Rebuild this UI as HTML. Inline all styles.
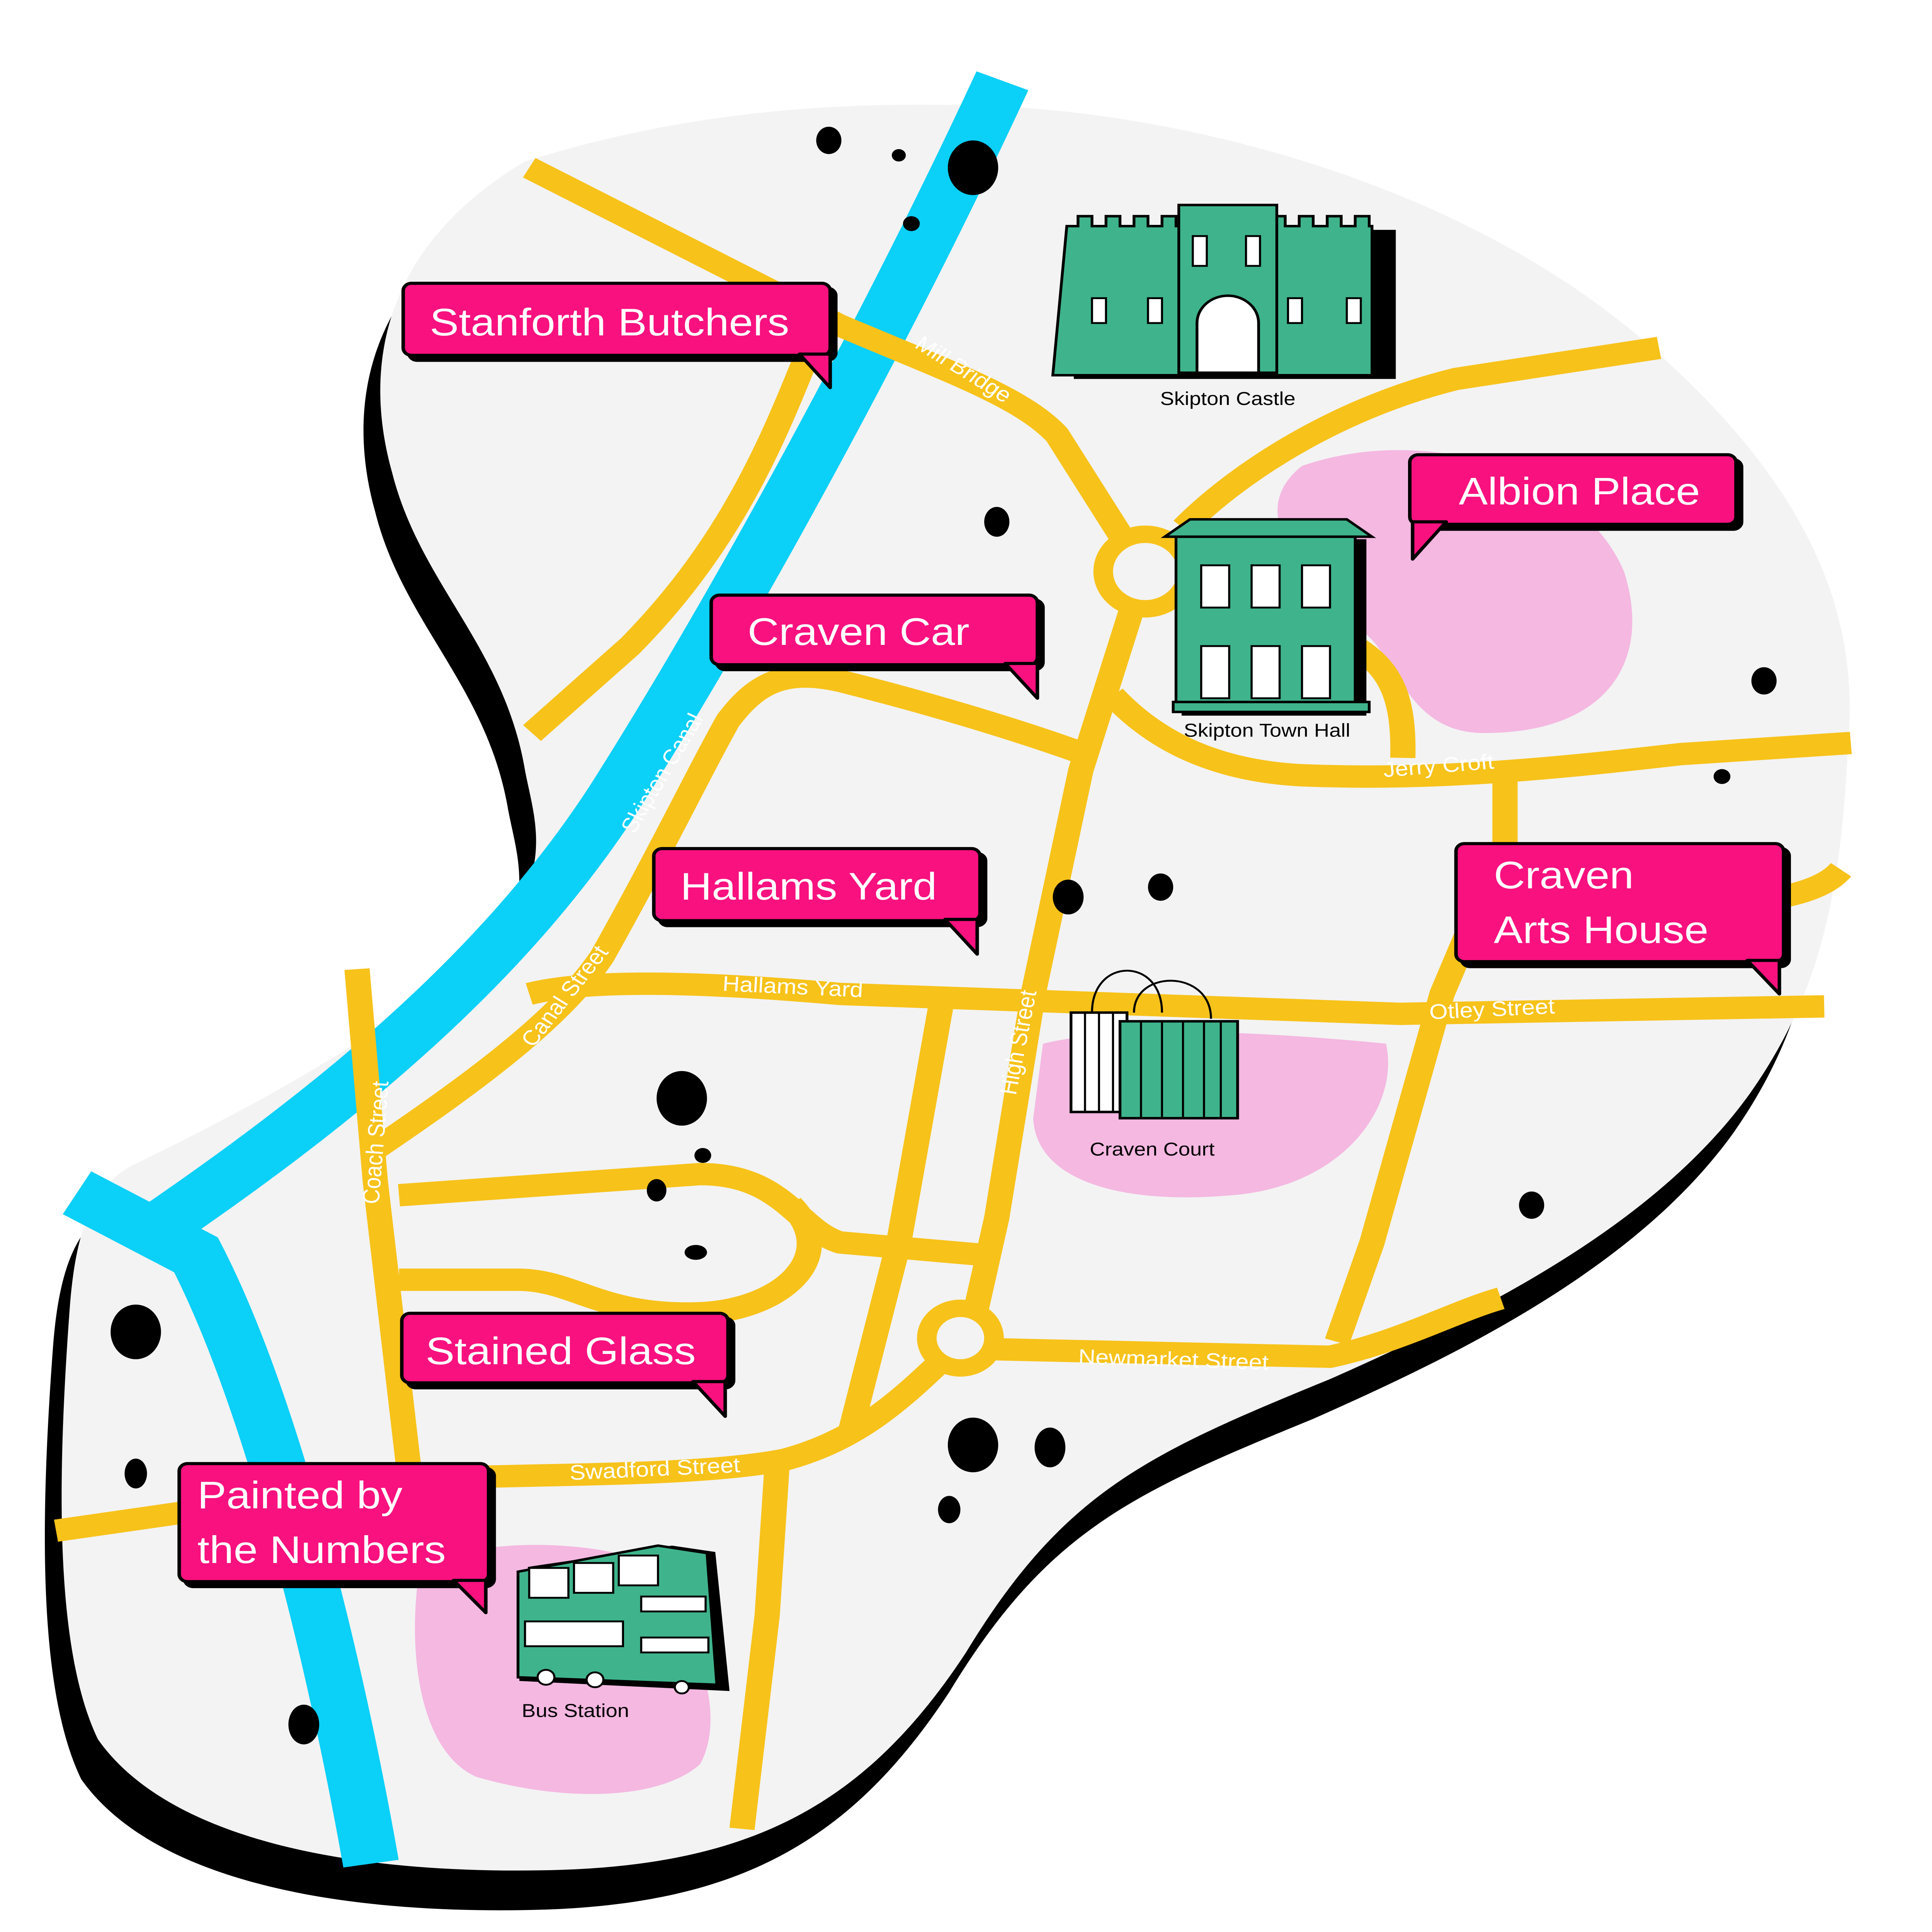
<!DOCTYPE html>
<html><head><meta charset="utf-8"><style>
html,body{margin:0;padding:0;background:#fff;width:100vw;height:100vh;overflow:hidden}
svg{display:block;width:100vw;height:100vh}
text{font-family:"Liberation Sans",sans-serif}
</style></head><body>
<svg viewBox="0 0 1380 1555" preserveAspectRatio="none" xmlns="http://www.w3.org/2000/svg">
<defs>
<path id="blob" d="M375,130 C460,100 560,80 700,85 C850,90 1050,150 1180,280 C1280,380 1330,480 1320,600 C1315,720 1300,800 1250,880 C1180,990 1050,1060 950,1110 C820,1170 760,1200 690,1330 C620,1450 540,1500 400,1505 C250,1510 120,1480 70,1400 C40,1330 40,1200 50,1050 C55,980 70,950 100,935 C200,880 330,800 375,720 C390,680 380,650 375,620 C360,520 300,470 280,380 C260,300 270,200 375,130 Z"/>
</defs>
<use href="#blob" transform="translate(-12,32)" fill="#000"/>
<use href="#blob" fill="#f3f3f3"/>

<g fill="#f4b8e1">
<path d="M930,375 C1020,340 1130,380 1160,460 C1180,530 1150,590 1060,590 C1010,590 1000,540 980,515 C950,480 880,420 930,375 Z"/>
<path d="M745,840 C800,825 900,830 990,840 C1000,890 960,955 880,962 C800,970 740,950 738,900 Z"/>
<path d="M300,1260 C340,1240 400,1240 440,1250 C500,1300 520,1380 500,1420 C470,1450 400,1450 340,1430 C300,1410 290,1330 300,1260 Z"/>
</g>

<g fill="none" stroke="#0bd0f8" stroke-width="40" stroke-linecap="butt">
<path d="M716,65 C640,250 530,480 440,640 C360,780 240,890 110,990"/>
<path d="M55,960 L140,1010 C195,1130 240,1340 265,1500"/>
</g>

<g fill="none" stroke="#f7c21a" stroke-width="18" stroke-linecap="butt" stroke-linejoin="round">
<path d="M378,135 L600,262 C680,300 730,320 755,350 L800,430"/>
<path d="M845,425 C880,385 950,330 1040,305 L1185,280"/>
<path d="M808,492 L772,620 L738,800 L712,980 L697,1055"/>
<path d="M575,290 C550,360 520,440 450,520 L380,590"/>
<path d="M268,925 C340,870 400,820 430,770 C470,690 500,620 520,580 C540,550 560,538 600,548 C660,565 720,585 770,605"/>
<path d="M795,560 C820,590 860,620 930,624 C1020,628 1100,620 1200,607 L1322,598"/>
<path d="M970,522 C995,540 1003,565 1002,610"/>
<path d="M1075,620 L1075,680 C1060,720 1045,760 1030,800 L980,1000 L955,1080"/>
<path d="M1315,700 C1300,720 1260,728 1200,728"/>
<path d="M378,800 C420,788 500,790 600,800 L1000,816 L1303,810"/>
<path d="M255,780 L268,950 L292,1182"/>
<path d="M285,962 L500,945 C560,945 570,990 600,1000 L702,1010"/>
<path d="M285,1030 L370,1030 C410,1030 430,1060 500,1057 C560,1054 600,1010 565,970"/>
<path d="M672,810 L642,1000 L608,1150"/>
<path d="M712,1086 L950,1092 C1000,1080 1040,1055 1072,1045"/>
<path d="M670,1098 C640,1130 610,1160 560,1175 C500,1188 400,1186 300,1190 L40,1232"/>
<path d="M555,1180 L548,1300 L530,1472"/>
</g>
<g fill="none" stroke="#f7c21a" stroke-width="14">
<circle cx="818" cy="460" r="30"/>
<circle cx="686" cy="1077" r="24"/>
</g>

<g fill="#000">
<ellipse cx="592" cy="113" rx="9" ry="11"/><circle cx="642" cy="125" r="5"/>
<ellipse cx="695" cy="135" rx="18" ry="22"/><circle cx="651" cy="180" r="6"/>
<ellipse cx="712" cy="420" rx="9" ry="12"/><ellipse cx="763" cy="722" rx="11" ry="14"/>
<ellipse cx="829" cy="714" rx="9" ry="11"/><ellipse cx="1260" cy="548" rx="9" ry="11"/>
<circle cx="1230" cy="625" r="6"/><ellipse cx="487" cy="884" rx="18" ry="22"/>
<circle cx="502" cy="930" r="6"/><ellipse cx="469" cy="958" rx="7" ry="9"/>
<ellipse cx="497" cy="1008" rx="8" ry="6"/><ellipse cx="1094" cy="970" rx="9" ry="11"/>
<ellipse cx="97" cy="1072" rx="18" ry="22"/><ellipse cx="97" cy="1186" rx="8" ry="12"/>
<ellipse cx="695" cy="1163" rx="18" ry="22"/><ellipse cx="750" cy="1165" rx="11" ry="16"/>
<ellipse cx="678" cy="1215" rx="8" ry="11"/><ellipse cx="217" cy="1388" rx="11" ry="16"/>
</g>

<g stroke="#000" stroke-width="2" fill="#3fb48c">
<rect x="768" y="186" width="228" height="118" fill="#000"/>
<path d="M762,182 h8 v-8 h10 v8 h10 v-8 h10 v8 h10 v-8 h10 v8 h10 v-8 h10 v8 h8 v120 h-96 z"/>
<path d="M900,182 h8 v-8 h10 v8 h10 v-8 h10 v8 h10 v-8 h10 v8 h10 v-8 h10 v8 h2 v120 h-88 z"/>
<rect x="842" y="165" width="70" height="135"/>
<path d="M855,300 v-40 a22,22 0 0 1 44,0 v40 z" fill="#fff"/>
</g>
<g fill="#fff" stroke="#000" stroke-width="1.5">
<rect x="780" y="240" width="10" height="20"/><rect x="820" y="240" width="10" height="20"/>
<rect x="920" y="240" width="10" height="20"/><rect x="962" y="240" width="10" height="20"/>
<rect x="852" y="190" width="10" height="24"/><rect x="890" y="190" width="10" height="24"/>
</g>
<g stroke="#000" stroke-width="2" fill="#3fb48c">
<rect x="845" y="435" width="130" height="140" fill="#000"/>
<path d="M832,432 L850,418 L962,418 L980,432 Z"/>
<rect x="840" y="432" width="128" height="140"/>
<rect x="838" y="565" width="140" height="8"/>
</g>
<g fill="#fff" stroke="#000" stroke-width="1.5">
<rect x="858" y="455" width="20" height="34"/><rect x="894" y="455" width="20" height="34"/><rect x="930" y="455" width="20" height="34"/>
<rect x="858" y="520" width="20" height="42"/><rect x="894" y="520" width="20" height="42"/><rect x="930" y="520" width="20" height="42"/>
</g>
<g stroke="#000" stroke-width="1.5" fill="none">
<path d="M780,815 C780,770 830,770 830,815"/><path d="M810,815 C810,780 865,780 865,820"/>
</g>
<rect x="765" y="815" width="40" height="80" fill="#fff" stroke="#000" stroke-width="2"/>
<rect x="800" y="822" width="84" height="78" fill="#3fb48c" stroke="#000" stroke-width="2"/>
<g stroke="#000" stroke-width="1.5"><path d="M775,815v80M785,815v80M795,815v80M815,822v78M830,822v78M845,822v78M860,822v78M872,822v78"/></g>
<g stroke="#000" stroke-width="2">
<path d="M378,1262 L480,1245 L510,1250 L520,1360 L372,1352 Z" fill="#000"/>
<path d="M370,1265 L470,1244 L505,1250 L512,1356 L370,1350 Z" fill="#3fb48c"/>
</g>
<g fill="#fff" stroke="#000" stroke-width="1.5">
<rect x="378" y="1262" width="28" height="24"/><rect x="410" y="1258" width="28" height="24"/><rect x="442" y="1252" width="28" height="24"/>
<rect x="458" y="1285" width="46" height="12"/><rect x="458" y="1318" width="48" height="12"/>
<rect x="375" y="1305" width="70" height="20"/>
<circle cx="390" cy="1350" r="6"/><circle cx="425" cy="1352" r="6"/><circle cx="487" cy="1358" r="5"/>
</g>
<g font-size="15" fill="#000" text-anchor="middle">
<text x="877" y="326">Skipton Castle</text>
<text x="905" y="593">Skipton Town Hall</text>
<text x="823" y="930">Craven Court</text>
<text x="411" y="1382">Bus Station</text>
</g>

<g font-size="17" fill="#fff" text-anchor="middle">
<text transform="translate(685,302) rotate(35)">Mill Bridge</text>
<text transform="translate(478,625) rotate(-62)">Skipton Canal</text>
<text transform="translate(1028,622) rotate(-5)">Jerry Croft</text>
<text transform="translate(566,800) rotate(3)">Hallams Yard</text>
<text transform="translate(1066,818) rotate(-3)">Otley Street</text>
<text transform="translate(408,805) rotate(-55)">Canal Street</text>
<text transform="translate(733,840) rotate(-80)">High Street</text>
<text transform="translate(274,920) rotate(-86)">Coach Street</text>
<text transform="translate(838,1100) rotate(2)">Newmarket Street</text>
<text transform="translate(468,1188) rotate(-3)">Swadford Street</text>
</g>

<g stroke="#000" stroke-width="2.5" stroke-linejoin="round">
<g transform="translate(288,228)">
<rect x="4" y="4" width="305" height="58" rx="6" fill="#000"/>
<rect width="305" height="58" rx="6" fill="#f8117f"/>
<path d="M283,57 L305,57 L305,84 Z" fill="#f8117f"/>
</g>
<g transform="translate(1007,366)">
<rect x="4" y="4" width="233" height="56" rx="6" fill="#000"/>
<rect width="233" height="56" rx="6" fill="#f8117f"/>
<path d="M2,54 L26,54 L2,84 Z" fill="#f8117f"/>
</g>
<g transform="translate(508,479)">
<rect x="4" y="4" width="233" height="56" rx="6" fill="#000"/>
<rect width="233" height="56" rx="6" fill="#f8117f"/>
<path d="M210,55 L233,55 L233,83 Z" fill="#f8117f"/>
</g>
<g transform="translate(467,683)">
<rect x="4" y="4" width="233" height="58" rx="6" fill="#000"/>
<rect width="233" height="58" rx="6" fill="#f8117f"/>
<path d="M208,57 L231,57 L231,85 Z" fill="#f8117f"/>
</g>
<g transform="translate(1040,679)">
<rect x="4" y="4" width="234" height="95" rx="6" fill="#000"/>
<rect width="234" height="95" rx="6" fill="#f8117f"/>
<path d="M208,94 L231,94 L231,121 Z" fill="#f8117f"/>
</g>
<g transform="translate(287,1057)">
<rect x="4" y="4" width="233" height="56" rx="6" fill="#000"/>
<rect width="233" height="56" rx="6" fill="#f8117f"/>
<path d="M208,55 L231,55 L231,83 Z" fill="#f8117f"/>
</g>
<g transform="translate(128,1178)">
<rect x="4" y="4" width="221" height="95" rx="6" fill="#000"/>
<rect width="221" height="95" rx="6" fill="#f8117f"/>
<path d="M196,94 L219,94 L219,120 Z" fill="#f8117f"/>
</g>
</g>
<g font-size="31" fill="#fff">
<text x="307" y="270">Stanforth Butchers</text>
<text x="1042" y="406">Albion Place</text>
<text x="534" y="519">Craven Car</text>
<text x="486" y="724">Hallams Yard</text>
<text x="1067" y="715">Craven</text>
<text x="1067" y="759">Arts House</text>
<text x="304" y="1098">Stained Glass</text>
<text x="141" y="1214">Painted by</text>
<text x="141" y="1258">the Numbers</text>
</g>
</svg>
</body></html>
